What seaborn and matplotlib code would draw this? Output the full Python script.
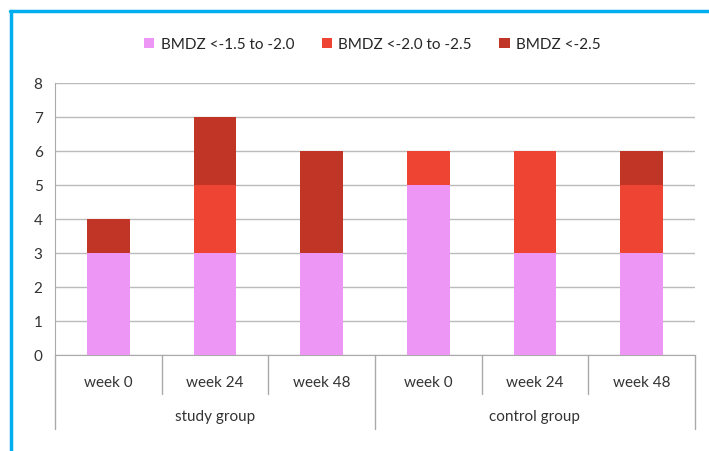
import pandas as pd
import seaborn as sns
import matplotlib.pyplot as plt
from matplotlib.lines import Line2D
from matplotlib.patches import Patch
import matplotlib.transforms as mtransforms

# data
groups = ["study group", "control group"]
weeks = ["week 0", "week 24", "week 48"]
mild = [3, 3, 3, 5, 3, 3]       # BMDZ <-1.5 to -2.0
moderate = [0, 2, 0, 1, 3, 2]   # BMDZ <-2.0 to -2.5
severe = [1, 2, 3, 0, 0, 1]     # BMDZ <-2.5
series_names = ["BMDZ <-1.5 to -2.0", "BMDZ <-2.0 to -2.5", "BMDZ <-2.5"]

cats = [g + " " + w for g in groups for w in weeks]
df = pd.DataFrame({"cat": cats, "mild": mild, "moderate": moderate, "severe": severe})
df["lvl2"] = df["mild"] + df["moderate"]
df["lvl3"] = df["lvl2"] + df["severe"]

colors = ["#EE96F6", "#EE4433", "#C13526"]

sns.set_style("white")
plt.rcParams["font.family"] = ["Lato", "DejaVu Sans"]

fig = plt.figure(figsize=(7.09, 4.52), dpi=100)
ax = fig.add_axes([0.0776, 0.2124, 0.9024, 0.6018])

# stacked bars: draw cumulative heights from top down
for col, c in zip(["lvl3", "lvl2", "mild"], colors[::-1]):
    sns.barplot(data=df, x="cat", y=col, order=cats, color=c, width=0.4,
                saturation=1, linewidth=0, ax=ax, zorder=3)

ax.set_xlim(-0.5, 5.5)
ax.set_ylim(0, 8)
ax.set_yticks(range(0, 9))
ax.yaxis.grid(True, color="#BBBBBB", linewidth=1, zorder=0)
ax.set_axisbelow(True)
ax.set_xlabel("")
ax.set_ylabel("")
for s in ["top", "right"]:
    ax.spines[s].set_visible(False)
ax.spines["left"].set_color("#AAAAAA")
ax.spines["bottom"].set_color("#AAAAAA")
ax.tick_params(axis="y", length=5, color="#AAAAAA", labelsize=11, labelcolor="#333333", pad=4)
ax.set_xticks([])

# two-level category axis
trans = mtransforms.blended_transform_factory(ax.transData, ax.transAxes)
for i, w in enumerate(weeks * len(groups)):
    ax.text(i, -0.099, w, transform=trans, ha="center", va="center",
            fontsize=11, color="#333333")
for gi, g in enumerate(groups):
    ax.text(gi * 3 + 1, -0.224, g, transform=trans, ha="center", va="center",
            fontsize=11, color="#333333")
for x in [0.5, 1.5, 3.5, 4.5]:
    ax.add_line(Line2D([x, x], [0, -0.143], transform=trans, color="#AAAAAA",
                       linewidth=1, clip_on=False))
for x in [-0.5, 2.5, 5.5]:
    ax.add_line(Line2D([x, x], [0, -0.272], transform=trans, color="#AAAAAA",
                       linewidth=1, clip_on=False))

handles = [Patch(facecolor=c, edgecolor="none") for c in colors]
fig.legend(handles, series_names, loc="center", bbox_to_anchor=(0.525, 0.90),
           ncol=3, frameon=False, fontsize=11, handlelength=0.7, handleheight=0.7,
           handletextpad=0.4, columnspacing=1.8)

# blue frame around the figure (top and left visible)
fig.add_artist(Line2D([0.014, 1.0], [0.973, 0.973], color="#00AEEF", linewidth=2.5,
                      transform=fig.transFigure))
fig.add_artist(Line2D([0.0155, 0.0155], [0.0, 0.973], color="#00AEEF", linewidth=2.5,
                      transform=fig.transFigure))

fig.savefig("out.png", dpi=100)
